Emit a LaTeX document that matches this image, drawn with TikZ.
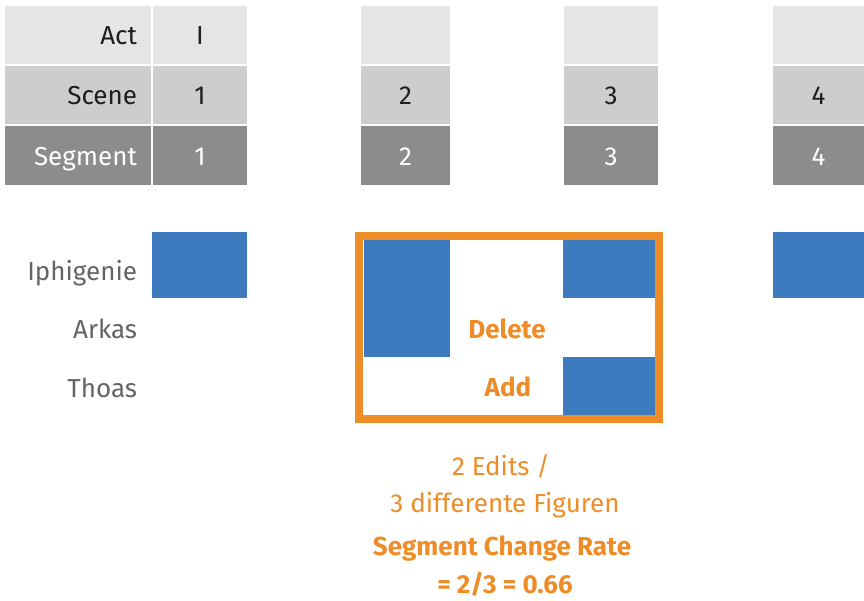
\documentclass[tikz,border=0pt]{standalone}
\usepackage{fontspec}
\setmainfont{Fira Sans}
\definecolor{lgray}{RGB}{228,229,231}
\definecolor{mgray}{RGB}{205,205,205}
\definecolor{dgray}{RGB}{140,140,140}
\definecolor{ink}{RGB}{30,30,30}
\definecolor{namegray}{RGB}{100,100,100}
\definecolor{blueblk}{RGB}{62,122,190}
\definecolor{orng}{RGB}{238,140,40}
\begin{document}
\begin{tikzpicture}[x=1pt,y=-1pt,
  every node/.style={font=\fontsize{26}{30}\selectfont, inner sep=0pt, outer sep=0pt},
  cellbox/.style={anchor=north west, minimum height=58pt, text height=19pt, text depth=0pt},
  labcell/.style={cellbox, minimum width=146pt, text width=118pt, align=right},
  valcell/.style={cellbox},
  actc/.style={fill=lgray, text=ink},
  scenec/.style={fill=mgray, text=ink},
  segc/.style={fill=dgray, text=white},
  pname/.style={anchor=base east, text=namegray},
  blk/.style={fill=blueblk},
  otext/.style={anchor=base, text=orng},
  obold/.style={anchor=base, text=orng, font=\fontsize{26}{30}\selectfont\bfseries}
]
\useasboundingbox (0,0) rectangle (864,600);
% label column
\node[labcell,actc]   (lact)   at (5,6)   {Act};
\node[labcell,scenec] (lscene) at (5,66)  {Scene};
\node[labcell,segc,minimum height=59pt] (lseg) at (5,126) {Segment};
% column 1
\node[valcell,actc,minimum width=94pt]   (a1) at (153,6)   {I};
\node[valcell,scenec,minimum width=94pt] (s1) at (153,66)  {1};
\node[valcell,segc,minimum width=94pt,minimum height=59pt] (g1) at (153,126) {1};
% column 2
\node[valcell,actc,minimum width=89pt]   (a2) at (361,6)   {};
\node[valcell,scenec,minimum width=89pt] (s2) at (361,66)  {2};
\node[valcell,segc,minimum width=89pt,minimum height=59pt] (g2) at (361,126) {2};
% column 3
\node[valcell,actc,minimum width=94pt]   (a3) at (564,6)   {};
\node[valcell,scenec,minimum width=94pt] (s3) at (564,66)  {3};
\node[valcell,segc,minimum width=94pt,minimum height=59pt] (g3) at (564,126) {3};
% column 4
\node[valcell,actc,minimum width=91pt]   (a4) at (773,6)   {};
\node[valcell,scenec,minimum width=91pt] (s4) at (773,66)  {4};
\node[valcell,segc,minimum width=91pt,minimum height=59pt] (g4) at (773,126) {4};
% character names
\node[pname] (niph) at (137,280) {Iphigenie};
\node[pname] (nark) at (137,338) {Arkas};
\node[pname] (ntho) at (137,397) {Thoas};
% blue blocks
\fill[blk] (152,232) rectangle (247,298);
\fill[blk] (773,232) rectangle (870,298);
\fill[blk] (364,240) rectangle (450,357);
\fill[blk] (563,240) rectangle (655,298);
\fill[blk] (563,357) rectangle (655,415);
% orange box
\draw[orng, line width=8pt] (359,236) rectangle (659,419);
\node[obold] (del) at (507,338) {Delete};
\node[obold] (add) at (508,396) {Add};
% bottom texts
\node[otext] (edits) at (501,475) {2 Edits /};
\node[otext] (figs) at (505,512) {3 differente Figuren};
\node[obold] (scr) at (502,555) {Segment Change Rate};
\node[obold] (rate) at (505,593) {= 2/3 = 0.66};
\end{tikzpicture}
\end{document}
